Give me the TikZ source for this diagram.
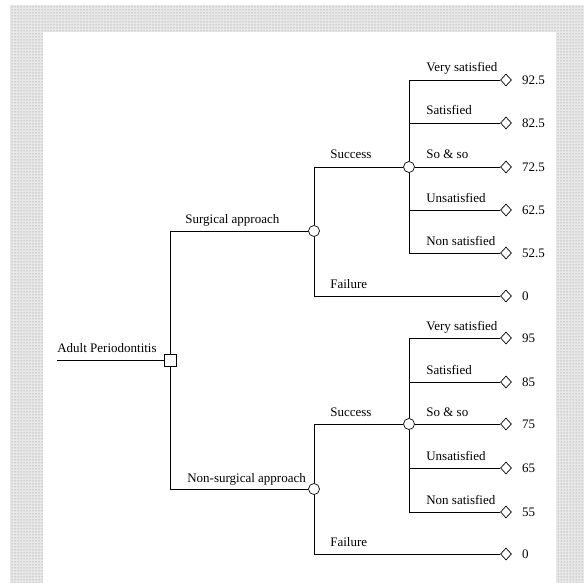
\documentclass[tikz,border=0pt]{standalone}
\usepackage{fontspec}
\setmainfont{Liberation Serif}
\usetikzlibrary{positioning,shapes.geometric,patterns}

\begin{document}
\begin{tikzpicture}[x=1pt, y=-1pt, font=\fontsize{13}{15}\selectfont, line width=0.7pt]
    \tikzset{
      dec/.style={draw, rectangle, minimum size=12pt, inner sep=0pt, fill=white},
      chn/.style={draw, circle, minimum size=11pt, inner sep=0pt, fill=white},
      trm/.style={draw, diamond, minimum width=11pt, minimum height=12pt,
                  inner sep=0pt, fill=white},
      val/.style={anchor=west, inner sep=0pt},
      lab/.style={anchor=base west, inner sep=0pt},
      frame/.style={fill=black!9, postaction={pattern=dots, pattern color=black!50}},
    }
    \useasboundingbox (0,0) rectangle (584,583);
    \path[frame] (10,5) rectangle (584,583);
    \fill[white] (43,32) rectangle (556,583);

    \coordinate (root) at (57,360);
    \node[dec] (d0) at (170,360) {};
    \node[chn] (c1) at (314,231) {};
    \node[chn] (c2) at (314,489) {};
    \node[chn] (s1) at (409,167) {};
    \node[chn] (s2) at (409,424) {};
    \node[trm] (o1) at (506,80) {};
    \node[trm] (o2) at (506,123) {};
    \node[trm] (o3) at (506,167) {};
    \node[trm] (o4) at (506,210) {};
    \node[trm] (o5) at (506,253) {};
    \node[trm] (o6) at (506,296) {};
    \node[trm] (o7) at (506,338) {};
    \node[trm] (o8) at (506,382) {};
    \node[trm] (o9) at (506,424) {};
    \node[trm] (o10) at (506,468) {};
    \node[trm] (o11) at (506,512) {};
    \node[trm] (o12) at (506,554) {};

    \draw (root) -- (d0.west);
    \draw (d0.north) |- (c1.west);
    \draw (d0.south) |- (c2.west);
    \draw (c1.north) |- (s1.west);
    \draw (c1.south) |- (o6.west);
    \draw (c2.north) |- (s2.west);
    \draw (c2.south) |- (o12.west);
    \draw (s1.north) |- (o1.west);
    \draw (s1.north) |- (o2.west);
    \draw (s1.east) -- (o3.west);
    \draw (s1.south) |- (o4.west);
    \draw (s1.south) |- (o5.west);
    \draw (s2.north) |- (o7.west);
    \draw (s2.north) |- (o8.west);
    \draw (s2.east) -- (o9.west);
    \draw (s2.south) |- (o10.west);
    \draw (s2.south) |- (o11.west);

    \node[lab] (l0) at (57,352) {Adult Periodontitis};
    \node[lab] (l1) at (185,223) {Surgical approach};
    \node[lab] (l2) at (187,482) {Non-surgical approach};
    \node[lab] (l3) at (330,159) {Success};
    \node[lab] (l4) at (330,288) {Failure};
    \node[lab] (l5) at (330,416) {Success};
    \node[lab] (l6) at (330,546) {Failure};
    \node[lab] (l7) at (426,72) {Very satisfied};
    \node[lab] (l8) at (426,115) {Satisfied};
    \node[lab] (l9) at (426,159) {So \& so};
    \node[lab] (l10) at (426,202) {Unsatisfied};
    \node[lab] (l11) at (426,245) {Non satisfied};
    \node[lab] (l12) at (426,330) {Very satisfied};
    \node[lab] (l13) at (426,374) {Satisfied};
    \node[lab] (l14) at (426,416) {So \& so};
    \node[lab] (l15) at (426,460) {Unsatisfied};
    \node[lab] (l16) at (426,504) {Non satisfied};

    \node[val, right=10pt of o1] {92.5};
    \node[val, right=10pt of o2] {82.5};
    \node[val, right=10pt of o3] {72.5};
    \node[val, right=10pt of o4] {62.5};
    \node[val, right=10pt of o5] {52.5};
    \node[val, right=10pt of o6] {0};
    \node[val, right=10pt of o7] {95};
    \node[val, right=10pt of o8] {85};
    \node[val, right=10pt of o9] {75};
    \node[val, right=10pt of o10] {65};
    \node[val, right=10pt of o11] {55};
    \node[val, right=10pt of o12] {0};
  \end{tikzpicture}
\end{document}
